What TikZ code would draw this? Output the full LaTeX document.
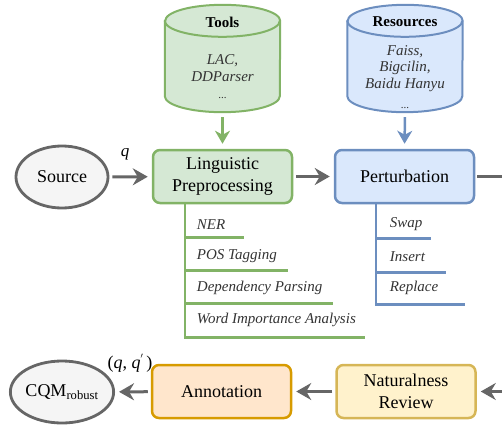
\documentclass[tikz,border=0pt]{standalone}
\usepackage{fontspec}
\setmainfont{Liberation Serif}[BoldFont={Liberation Serif Bold}, ItalicFont={Liberation Serif Italic}, BoldItalicFont={Liberation Serif Bold Italic}]
\usetikzlibrary{arrows.meta,shapes.geometric,calc}
\definecolor{gF}{HTML}{D5E8D4}\definecolor{gD}{HTML}{82B366}
\definecolor{bF}{HTML}{DAE8FC}\definecolor{bD}{HTML}{6C8EBF}
\definecolor{oF}{HTML}{FFE6CC}\definecolor{oD}{HTML}{D79B00}
\definecolor{yF}{HTML}{FFF2CC}\definecolor{yD}{HTML}{D6B656}
\definecolor{kF}{HTML}{F5F5F5}\definecolor{kD}{HTML}{666666}
\definecolor{txt}{HTML}{333333}
\tikzset{
 procbox/.style={rectangle, rounded corners=7pt, line width=2.5pt, minimum width=139pt, minimum height=53pt, align=center, font=\fontsize{18}{22}\selectfont, inner sep=0pt},
 termnode/.style={ellipse, draw=kD, fill=kF, line width=2.8pt, minimum width=92pt, minimum height=62pt, font=\fontsize{18}{22}\selectfont, inner sep=0pt},
 flow/.style={draw=kD, line width=3pt, -{Stealth[length=15pt,width=17pt,inset=5pt]}, shorten <=3pt, shorten >=4pt},
 feed/.style={line width=2.5pt, -{Stealth[length=13pt,width=15pt,inset=4pt]}, shorten <=5pt, shorten >=5pt},
 itemlbl/.style={font=\fontsize{15}{18}\selectfont\itshape, text=txt, anchor=west, inner sep=0pt},
 cyltext/.style={font=\fontsize{15}{16.5}\selectfont\itshape, text=txt, align=center, inner sep=0pt},
 cylbox/.style={rectangle, minimum width=115pt, minimum height=107pt, inner sep=0pt},
}
\newcommand\drawcyl[3]{%
 \path[fill=#2, draw=#3, line width=2pt]
  ($(#1.north west)+(0,16)$) -- ($(#1.south west)+(0,-16)$)
  arc[start angle=180, end angle=0, x radius=57.5, y radius=16]
  -- ($(#1.north east)+(0,16)$)
  arc[start angle=0, end angle=-180, x radius=57.5, y radius=16] -- cycle;
 \draw[#3, line width=2pt] ($(#1.north west)+(0,16)$)
  arc[start angle=180, end angle=0, x radius=57.5, y radius=16];
}
\begin{document}
\begin{tikzpicture}[x=1pt,y=-1pt]
\useasboundingbox (0,0) rectangle (502,425);
% cylinders
\node[cylbox] (tools) at (222.5,58.5) {};
\node[cylbox] (res) at (405,58.5) {};
\drawcyl{tools}{gF}{gD}
\drawcyl{res}{bF}{bD}
\node[font=\fontsize{15}{16}\selectfont\bfseries, inner sep=0pt] (toolsT) at (222.5,22) {Tools};
\node[font=\fontsize{15}{16}\selectfont\bfseries, inner sep=0pt] (resT) at (405,22) {Resources};
\node[cyltext] (toolsL) at (222.5,68) {LAC,\\DDParser};
\node[cyltext, font=\fontsize{11}{12}\selectfont] (toolsE) at (222.5,98) {...};
\node[cyltext] (resL) at (405,68.5) {Faiss,\\Bigcilin,\\Baidu Hanyu};
\node[cyltext, font=\fontsize{11}{12}\selectfont] (resE) at (405,108) {...};
% main nodes
\node[procbox, draw=gD, fill=gF] (lp) at (222.5,176.5) {Linguistic\\Preprocessing};
\node[procbox, draw=bD, fill=bF] (pert) at (404.5,176.5) {Perturbation};
\node[termnode] (src) at (62,177) {Source};
\node[termnode] (cqm) at (62,392) {CQM\textsubscript{robust}};
\node[procbox, draw=oD, fill=oF] (annot) at (221.5,391.5) {Annotation};
\node[procbox, draw=yD, fill=yF] (nat) at (406,391.5) {Naturalness\\Review};
\coordinate (outR) at (502,176.5);
\coordinate (inR) at (502,391.5);
% connectors
\draw[feed, draw=gD, fill=gD] (tools.south) -- (lp.north);
\draw[feed, draw=bD, fill=bD] (res.south) -- (pert.north);
\draw[flow] (src) -- (lp);
\draw[flow] (lp) -- (pert);
\draw[draw=kD, line width=3pt, shorten <=2pt] (pert.east) -- (outR);
\draw[flow, shorten <=0pt] (inR) -- (nat.east);
\draw[flow] (nat) -- (annot);
\draw[flow] (annot) -- (cqm);
\node[font=\fontsize{17}{18}\selectfont\itshape, inner sep=0pt] (qlbl) at (125,154) {q};
\node[font=\fontsize{18}{20}\selectfont, inner sep=0pt] (qqlbl) at (130,363) {(\textit{q}, \textit{q}\raisebox{6pt}{\fontsize{12}{12}\selectfont$'$}\,)};
% green tree
\coordinate (lt) at ($(lp.south west)+(33,0)$);
\draw[gD, line width=2.5pt] (lt) -- ++(0,133) -- ++(180,0);
\draw[gD, line width=2.5pt] ($(lt)+(0,33)$) -- ++(59,0);
\draw[gD, line width=2.5pt] ($(lt)+(0,66)$) -- ++(103,0);
\draw[gD, line width=2.5pt] ($(lt)+(0,99)$) -- ++(148,0);
\node[itemlbl] (ner) at ($(lt)+(12,20)$) {NER};
\node[itemlbl] (pos) at ($(lt)+(12,52)$) {POS Tagging};
\node[itemlbl] (dep) at ($(lt)+(12,84)$) {Dependency Parsing};
\node[itemlbl] (wia) at ($(lt)+(12,116)$) {Word Importance Analysis};
% blue tree
\coordinate (bt) at ($(pert.south west)+(42,0)$);
\draw[bD, line width=2.5pt] (bt) -- ++(0,100) -- ++(89,0);
\draw[bD, line width=2.5pt] ($(bt)+(0,34)$) -- ++(55,0);
\draw[bD, line width=2.5pt] ($(bt)+(0,68)$) -- ++(70,0);
\node[itemlbl] (swap) at ($(bt)+(14,20)$) {Swap};
\node[itemlbl] (ins) at ($(bt)+(14,52)$) {Insert};
\node[itemlbl] (rep) at ($(bt)+(14,84)$) {Replace};
\end{tikzpicture}
\end{document}
